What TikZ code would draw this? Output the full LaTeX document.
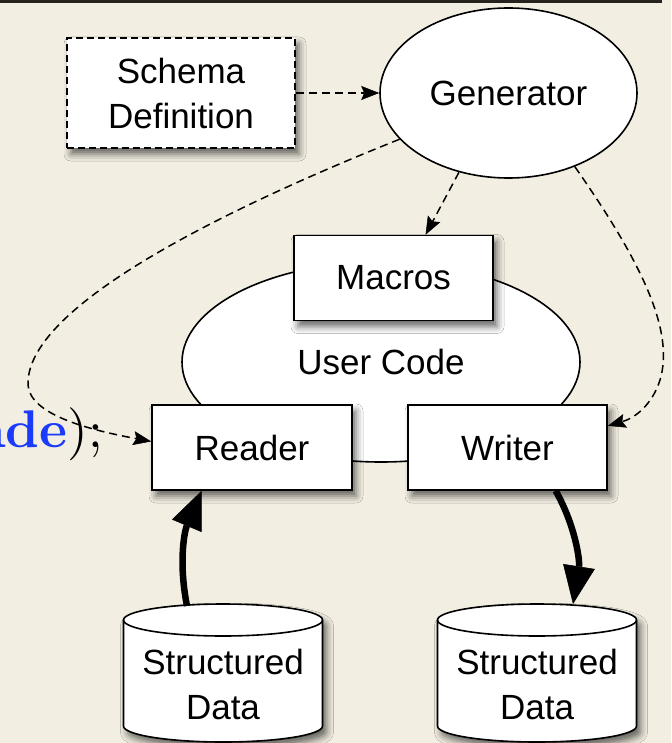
\documentclass[tikz,border=0pt]{standalone}
\usepackage{fontspec}
\newfontfamily\labelfont{Liberation Sans}
\newfontfamily\codeboldfont{lmroman10-bold.otf}
\newfontfamily\coderegfont{lmroman10-regular.otf}
\usetikzlibrary{shapes.geometric,shadows.blur,arrows.meta,calc}
\definecolor{paper}{RGB}{243,238,226}
\definecolor{codeblue}{RGB}{26,60,250}
\definecolor{toprule}{RGB}{38,34,30}

\begin{document}
\begin{tikzpicture}[x=1pt,y=-1pt,
  lbl/.style={font=\labelfont\fontsize{35}{45}\selectfont, align=center, inner sep=0pt},
  shadowed/.style={blur shadow={shadow xshift=4pt, shadow yshift=-6pt,
      shadow blur radius=7pt, shadow opacity=60}},
  stepbox/.style={lbl, rectangle, draw, fill=white, line width=1.6pt, shadowed},
  blob/.style={lbl, ellipse, draw, fill=white, line width=1.6pt},
  flow/.style={line width=1.5pt, dash pattern=on 8pt off 5pt,
      -{Stealth[length=18pt,width=14pt,inset=3pt,line width=0.5pt,fill=black]}},
  dataflow/.style={line width=6.5pt,
      -{Triangle[length=38pt,width=32pt,line width=0.5pt,fill=black]}},
  drum/.style={fill=white, draw, line width=1.6pt, shadowed}
]
% paper and top rule
\fill[paper] (0,0) rectangle (671,743);
\useasboundingbox (0,0) rectangle (671,743);
\draw[toprule, line width=2.6pt] (0,1.3) -- (662,1.3);

% code fragment at the left edge
\node[anchor=base east, inner sep=0pt, font=\fontsize{53}{60}\selectfont]
  (codefrag) at (103,447) {{\codeboldfont\color{codeblue}ade}{\coderegfont );}};

% schema and generator
\node[stepbox, dash pattern=on 7pt off 4pt, minimum width=228pt, minimum height=110pt]
  (schema) at (181,93) {Schema\\Definition};
\node[blob, minimum width=257pt, minimum height=170pt] (gen) at (508.5,93) {Generator};

% user code with its generated parts
\node[blob, minimum width=398pt, minimum height=200pt] (user) at (381,362)
  {\raisebox{-3pt}{User Code}};
\node[stepbox, minimum width=199pt, minimum height=85pt] (macros) at (393.5,278) {Macros};
\node[stepbox, minimum width=200pt, minimum height=85pt] (reader) at (252,447.5) {Reader};
\node[stepbox, minimum width=199pt, minimum height=85pt] (writer) at (507.5,447.5) {Writer};

% data stores
\path[drum] (123.5,620) -- (123.5,726)
  arc[start angle=180, end angle=0, x radius=99.5, y radius=16] -- (322.5,620)
  arc[start angle=0, end angle=-180, x radius=99.5, y radius=16] -- cycle;
\draw[line width=1.6pt] (123.5,620) arc[start angle=180, end angle=0, x radius=99.5, y radius=16];
\path[drum] (437.5,620) -- (437.5,726)
  arc[start angle=180, end angle=0, x radius=99.5, y radius=16] -- (636.5,620)
  arc[start angle=0, end angle=-180, x radius=99.5, y radius=16] -- cycle;
\draw[line width=1.6pt] (437.5,620) arc[start angle=180, end angle=0, x radius=99.5, y radius=16];
\node[lbl] (srcdata) at (223,684) {Structured\\Data};
\node[lbl] (dstdata) at (537,684) {Structured\\Data};
\coordinate (srctop) at (187,606);
\coordinate (dsttop) at (573,604);

% generation links
\draw[flow] (schema.east) -- (gen.west);
\draw[flow] (gen.238) -- ($(macros.north west)!0.66!(macros.north east)$);
\draw[flow] (gen.203) .. controls (260,195) and (25,300) .. (28,385)
  .. controls (30,415) and (90,430) .. ($(reader.north west)!0.43!(reader.south west)$);
\draw[flow] (gen.312) .. controls (640,260) and (675,330) .. (660,380)
  .. controls (652,405) and (635,418) .. ($(writer.north east)!0.25!(writer.south east)$);

% data movement
\draw[dataflow] (srctop) .. controls (178,560) and (185,530)
  .. ($(reader.south west)!0.25!(reader.south east)$);
\draw[dataflow] ($(writer.south west)!0.74!(writer.south east)$)
  .. controls (575,525) and (580,560) .. (dsttop);
\end{tikzpicture}
\end{document}
